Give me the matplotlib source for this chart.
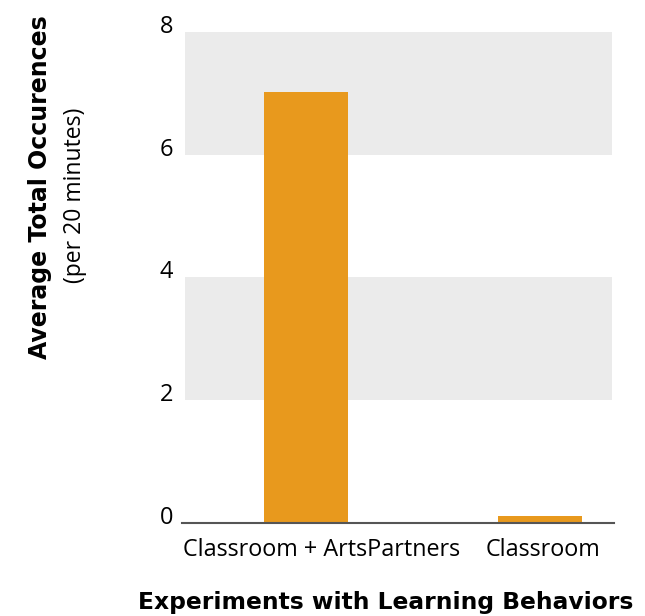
import matplotlib
matplotlib.use("Agg")
import matplotlib.pyplot as plt
from matplotlib.transforms import offset_copy, ScaledTranslation

categories = ["Classroom + ArtsPartners", "Classroom"]
values = [7.02, 0.11]
yticks = [0, 2, 4, 6, 8]
bands = [(2, 4), (6, 8)]

fig = plt.figure(figsize=(6.45, 6.16), dpi=100)
ax = fig.add_axes([185/645, 1 - 522.5/616, (612-185)/645, (522.5-32)/616])

for lo, hi in bands:
    ax.axhspan(lo, hi, color="#EBEBEB", lw=0, zorder=0)

x = list(range(len(categories)))
ax.bar(x, values, width=0.36, color="#E8991D", zorder=2)
ax.set_xlim(-0.52, 1.31)
ax.set_ylim(0, 8)

for s in ["top", "right", "left"]:
    ax.spines[s].set_visible(False)
ax.spines["bottom"].set_color("#555555")
ax.spines["bottom"].set_linewidth(1.5)
ax.spines["bottom"].set_bounds(-0.535, 1.318)
ax.spines["bottom"].set_zorder(3)

font = "Open Sans"
bold = "DejaVu Sans"
ax.set_yticks(yticks)
ax.set_yticklabels([])
ax.tick_params(axis="y", length=0)
trans = offset_copy(ax.get_yaxis_transform(), fig=fig, x=-8.5, y=3.5, units="points")
for t in yticks:
    ax.text(0, t, str(t), transform=trans, ha="right", va="center",
            fontsize=17, family=font)

ax.set_xticks(x)
ax.set_xticklabels(categories, fontsize=16.8, family=font)
ax.tick_params(axis="x", length=0, pad=11)
shifts = [0.15, 0.03]
for lbl, s in zip(ax.get_xticklabels(), shifts):
    lbl.set_transform(lbl.get_transform() + ScaledTranslation(s, 0, fig.dpi_scale_trans))

fig.text(386/645, 1 - 603/616, "Experiments with Learning Behaviors", ha="center",
         va="center", fontsize=16.8, family=bold, fontweight="bold")
fig.text(40/645, 1 - 187/616, "Average Total Occurences", rotation=90, ha="center",
         va="center", fontsize=17, family=bold, fontweight="bold")
fig.text(75/645, 1 - 195/616, "(per 20 minutes)", rotation=90, ha="center",
         va="center", fontsize=16.5, family=font)

fig.savefig("out.png", dpi=100)
